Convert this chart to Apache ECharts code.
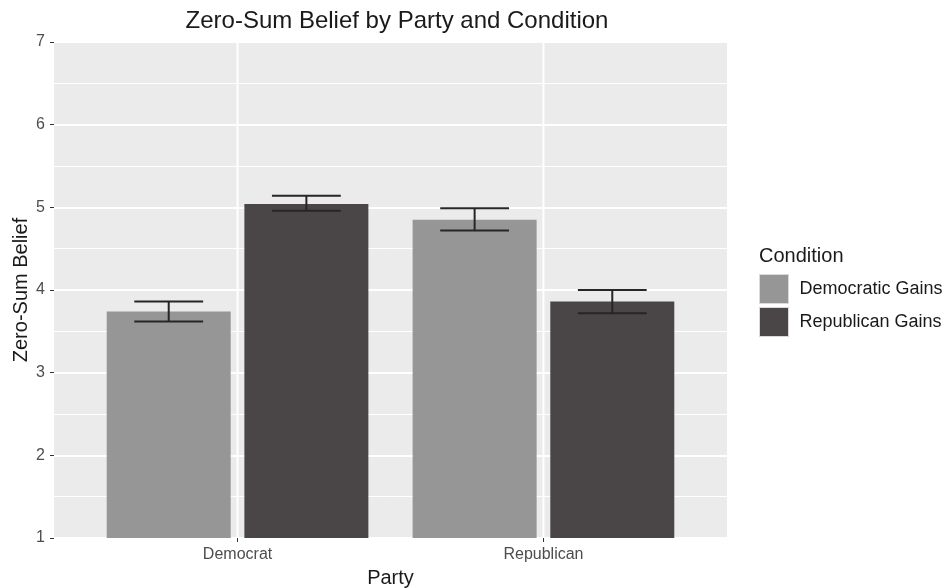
<!DOCTYPE html>
<html>
<head>
<meta charset="utf-8">
<script src="https://cdn.jsdelivr.net/npm/echarts@6/dist/echarts.min.js"></script>
<style>
  html, body { margin: 0; padding: 0; background: #fff; }
  #chart { width: 947px; height: 588px; }
</style>
</head>
<body>
<div id="chart"></div>
<script>
// Party groups on the x axis and the two experimental conditions
const parties = ['Democrat', 'Republican'];
const conditions = ['Democratic Gains', 'Republican Gains'];

// Mean zero-sum belief per party, one array per condition
const demGainsMean = [3.74, 4.85];
const repGainsMean = [5.04, 3.86];

// Error bar limits (lower, upper) per party
const demGainsLow = [3.62, 4.72];
const demGainsHigh = [3.86, 4.99];
const repGainsLow = [4.96, 3.72];
const repGainsHigh = [5.14, 4.00];

const colors = ['#969696', '#4a4647'];
const dodge = 0.225;      // half of the dodge width, in x units
const capHalf = 0.1125;   // half width of the error bar caps, in x units
const font = 'Liberation Sans';

function barData(means, shift) {
  return means.map((v, i) => [i + 1 + shift, v]);
}
function errData(lows, highs, shift) {
  return lows.map((l, i) => [i + 1 + shift, l, highs[i]]);
}

function renderErr(params, api) {
  const x = api.value(0);
  const lo = api.coord([x, api.value(1)]);
  const hi = api.coord([x, api.value(2)]);
  const left = api.coord([x - capHalf, api.value(1)])[0];
  const right = api.coord([x + capHalf, api.value(1)])[0];
  const style = { stroke: '#262626', lineWidth: 2 };
  return {
    type: 'group',
    children: [
      { type: 'line', shape: { x1: lo[0], y1: lo[1], x2: hi[0], y2: hi[1] }, style },
      { type: 'line', shape: { x1: left, y1: lo[1], x2: right, y2: lo[1] }, style },
      { type: 'line', shape: { x1: left, y1: hi[1], x2: right, y2: hi[1] }, style }
    ]
  };
}

const chart = echarts.init(document.getElementById('chart'));
chart.setOption({
  animation: false,
  title: [
    {
      text: 'Zero-Sum Belief by Party and Condition',
      left: 392, top: 4, textAlign: 'center',
      textStyle: { fontFamily: font, fontSize: 24, fontWeight: 'normal', color: '#1a1a1a' }
    },
    {
      text: 'Condition',
      left: 754, top: 241,
      textStyle: { fontFamily: font, fontSize: 20, fontWeight: 'normal', color: '#1a1a1a' }
    }
  ],
  legend: {
    data: conditions,
    orient: 'vertical',
    left: 754, top: 269,
    itemWidth: 29, itemHeight: 29, itemGap: 3,
    icon: 'rect',
    itemStyle: { borderColor: '#d9d9d9', borderWidth: 1 },
    textStyle: { fontFamily: font, fontSize: 18, color: '#1a1a1a', padding: [0, 0, 0, 6] },
    selectedMode: false
  },
  grid: {
    left: 54, right: 220, top: 42, bottom: 50,
    outerBoundsMode: 'none',
    containLabel: false,
    show: true, backgroundColor: '#ebebeb', borderWidth: 0
  },
  xAxis: {
    type: 'value', min: 0.4, max: 2.6,
    name: 'Party', nameLocation: 'middle', nameGap: 30,
    nameTextStyle: { fontFamily: font, fontSize: 20, color: '#1a1a1a' },
    axisLine: { show: false },
    axisTick: { show: true, length: 4, lineStyle: { color: '#333' }, customValues: [1, 2] },
    axisLabel: {
      customValues: [1, 2], margin: 9,
      fontFamily: font, fontSize: 16, color: '#4d4d4d',
      formatter: v => parties[Math.round(v) - 1]
    },
    splitLine: { show: false }
  },
  yAxis: {
    type: 'value', min: 1, max: 7, interval: 1,
    name: 'Zero-Sum Belief', nameLocation: 'middle', nameGap: 23,
    nameMoveOverlap: false,
    nameTextStyle: { fontFamily: font, fontSize: 20, color: '#1a1a1a' },
    axisLine: { show: false },
    axisTick: { show: true, length: 4, lineStyle: { color: '#333' } },
    axisLabel: { margin: 9, fontFamily: font, fontSize: 16, color: '#4d4d4d' },
    splitLine: { show: true, lineStyle: { color: '#ffffff', width: 2 } },
    minorTick: { show: false, splitNumber: 2 },
    minorSplitLine: { show: true, lineStyle: { color: '#ffffff', width: 1 } }
  },
  series: [
    {
      // vertical major grid lines at the party positions
      type: 'custom', silent: true, z: 0,
      data: [[1], [2]],
      renderItem: (params, api) => {
        const x = api.coord([api.value(0), 1])[0];
        const top = api.coord([api.value(0), 7])[1];
        const bottom = api.coord([api.value(0), 1])[1];
        return { type: 'line', shape: { x1: x, y1: top, x2: x, y2: bottom }, style: { stroke: '#ffffff', lineWidth: 2 } };
      }
    },
    {
      name: conditions[0], type: 'bar', barWidth: 124, barGap: '-100%', z: 2,
      itemStyle: { color: colors[0] },
      data: barData(demGainsMean, -dodge)
    },
    {
      name: conditions[1], type: 'bar', barWidth: 124, barGap: '-100%', z: 2,
      itemStyle: { color: colors[1] },
      data: barData(repGainsMean, dodge)
    },
    {
      type: 'custom', z: 3, renderItem: renderErr,
      data: errData(demGainsLow, demGainsHigh, -dodge)
    },
    {
      type: 'custom', z: 3, renderItem: renderErr,
      data: errData(repGainsLow, repGainsHigh, dodge)
    }
  ]
});
</script>
</body>
</html>
